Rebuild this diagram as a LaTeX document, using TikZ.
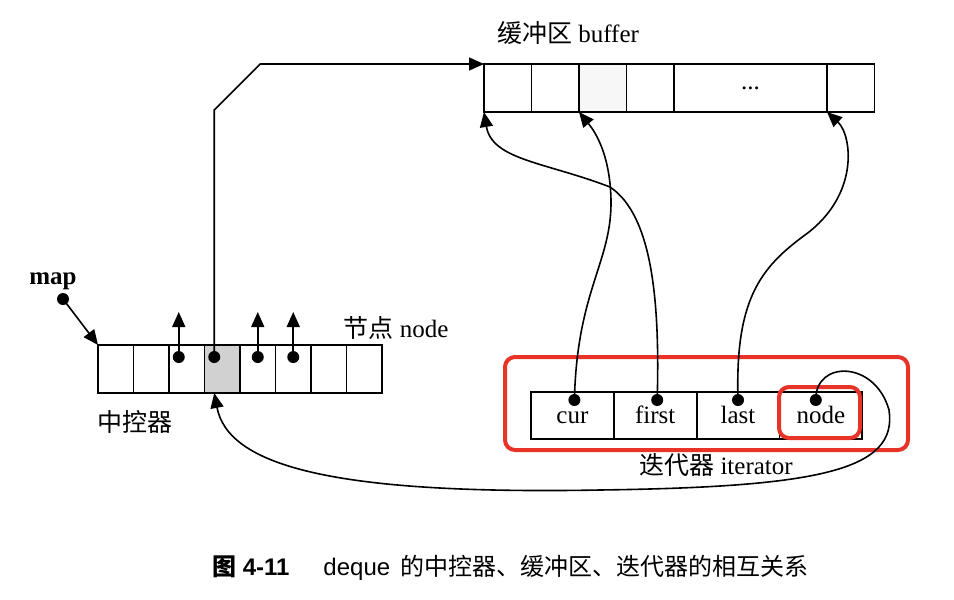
\documentclass[tikz,border=0pt]{standalone}
\usepackage{fontspec}
\setmainfont{Liberation Serif}
\newfontfamily\cjk{Noto Sans CJK SC}
\newfontfamily\capsans{Liberation Sans}
\usepackage{tikz}
\usetikzlibrary{arrows.meta, positioning, calc}

\definecolor{markred}{RGB}{232,52,40}

\begin{document}
\begin{tikzpicture}[
  x=0.5pt, y=-0.5pt,
  line/.style={draw, -{Triangle[length=7.5pt,width=6.5pt]}, line width=0.8pt},
  cell/.style={rectangle, draw, line width=0.9pt, outer sep=0pt, inner sep=0pt,
              minimum height=24pt},
  bufcell/.style={cell, minimum width=23.75pt},
  mapcell/.style={cell, minimum width=17.75pt},
  itcell/.style={cell, minimum width=41.4pt, minimum height=23.5pt,
              font=\fontsize{12.5}{14}\selectfont, text height=9pt, text depth=1.5pt},
  ptr/.style={circle, fill=black, inner sep=0pt, minimum size=6pt},
  lbl/.style={font=\fontsize{12.5}{14}\selectfont},
  redbox/.style={rectangle, draw=markred, line width=2pt, rounded corners=5pt}
]
\useasboundingbox (0,0) rectangle (954,600);

% =======================================================
%                     BUFFER
% =======================================================
\node[bufcell] (b1) at (507.75,88) {};
\node[bufcell, right=0pt of b1] (b2) {};
\node[bufcell, right=0pt of b2, fill=black!3] (b3) {};
\node[bufcell, right=0pt of b3] (b4) {};
\node[cell, minimum width=76.5pt, right=0pt of b4] (b5) {\fontsize{12.5}{14}\selectfont ...};
\node[bufcell, right=0pt of b5] (b6) {};
\node[lbl] (buflbl) at (568,33) {{\cjk 缓冲区} buffer};

% =======================================================
%                     MAP (CONTROLLER)
% =======================================================
\node[mapcell] (m1) at (115.75,369) {};
\node[mapcell, right=0pt of m1] (m2) {};
\node[mapcell, right=0pt of m2] (m3) {};
\node[mapcell, right=0pt of m3, fill=black!18] (m4) {};
\node[mapcell, right=0pt of m4] (m5) {};
\node[mapcell, right=0pt of m5] (m6) {};
\node[mapcell, right=0pt of m6] (m7) {};
\node[mapcell, right=0pt of m7] (m8) {};
\node[lbl] (nodelbl) at (396,328) {{\cjk 节点} node};
\node[lbl] (maplbl2) at (135,422) {\cjk 中控器};

\node[lbl, font=\fontsize{12.5}{14}\selectfont\bfseries] (maplbl) at (53,281) {map};
\node[ptr] (pmap) at (63,299) {};

\node[ptr] (p3) at ($(m3.north)+(-8,12)$) {};
\node[ptr] (p4) at ($(m4.north)+(-8,12)$) {};
\node[ptr] (p5) at ($(m5.north)+(0,12)$) {};
\node[ptr] (p6) at ($(m6.north)+(0,12)$) {};
\coordinate (m4in) at ($(m4.south)+(-8,0)$);

% =======================================================
%                     ITERATOR
% =======================================================
\node[itcell] (cur) at (572.4,415.5) {cur};
\node[itcell, right=0pt of cur] (first) {first};
\node[itcell, right=0pt of first] (last) {last};
\node[itcell, right=0pt of last] (nd) {node};
\node[lbl] (itlbl) at (716,465) {{\cjk 迭代器} iterator};

\node[ptr] (pcur) at ($(cur.north)+(2,8)$) {};
\node[ptr] (pfirst) at ($(first.north)+(2,8)$) {};
\node[ptr] (plast) at ($(last.north)+(0,8)$) {};
\node[ptr] (pnode) at ($(nd.north)+(-5,8)$) {};

% highlight marks
\node[redbox, minimum width=201.5pt, minimum height=46.5pt] (hlit) at (706.5,403.5) {};
\node[redbox, minimum width=40.5pt, minimum height=25.5pt] (hlnode) at (819.5,412.5) {};

% =======================================================
%                     CONNECTIONS
% =======================================================

% map -> controller
\draw[line] (pmap.center) -- (m1.north west);

% controller pointers
\draw[line] (p3.center) -- ++(0,-45);
\draw[line] (p5.center) -- ++(0,-45);
\draw[line] (p6.center) -- ++(0,-45);
\draw[line] (p4.center) -- ++(0,-247) -- ++(46,-46) -- (b1.north west);

% iterator -> buffer
\draw[line] (pcur.center) .. controls (577,290) and (612,262) .. (611,200)
  .. controls (610,150) and (592,128) .. (b3.south west);
\draw[line] (pfirst.center) .. controls (660,300) and (652,215) .. (610,187)
  .. controls (545,162) and (492,160) .. (b1.south west);
\draw[line] (plast.center) .. controls (735,300) and (760,268) .. (805,235)
  .. controls (860,195) and (852,135) .. (b6.south west);

% iterator node -> controller
\draw[line] (pnode.center) .. controls (815,360) and (875,360) .. (889,410)
  .. controls (898,470) and (820,487) .. (600,490)
  .. controls (330,495) and (228,465) .. (m4in);

% caption
\node[font=\fontsize{12}{14}\selectfont] (caption) at (510.5,568)
  {{\cjk\bfseries 图}\ {\capsans\bfseries 4-11}\hspace{17pt}{\capsans deque}\hspace{5pt}{\cjk 的中控器、缓冲区、迭代器的相互关系}};

\end{tikzpicture}
\end{document}
